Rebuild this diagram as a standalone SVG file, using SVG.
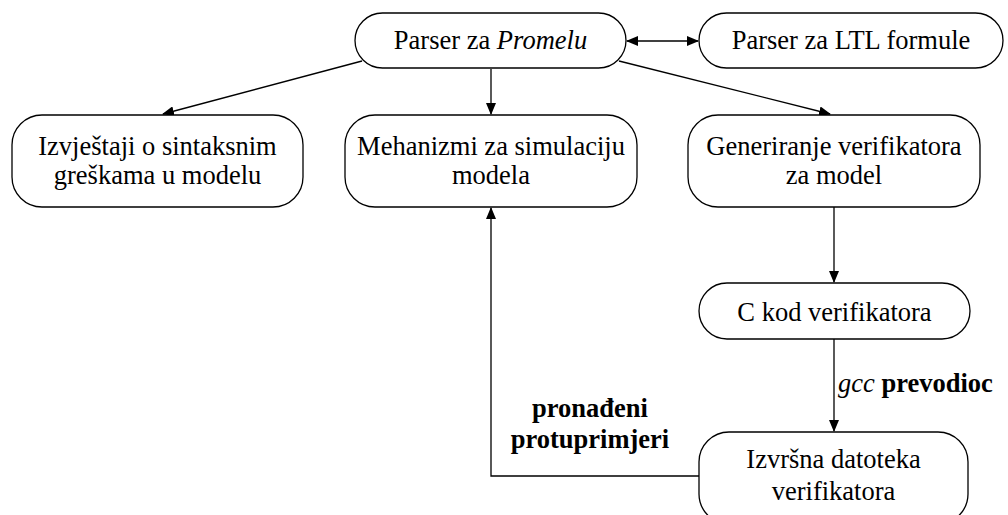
<svg xmlns="http://www.w3.org/2000/svg" width="1008" height="515" viewBox="0 0 1008 515">
<style>
.box{fill:#fff;stroke:#000;stroke-width:1.3}
.t{font-family:'Liberation Serif','Times New Roman',Tinos,'DejaVu Serif',serif;font-size:26.5px;fill:#000;text-anchor:middle}
.b{font-weight:600}
.c{fill:none;stroke:#000;stroke-width:1.3}
</style>
<defs>
<marker id="ah" markerWidth="12" markerHeight="10" refX="11" refY="5" orient="auto" markerUnits="userSpaceOnUse">
<path d="M0,0 L12,5 L0,10 Z" fill="#000"/>
</marker>
<marker id="as" markerWidth="12" markerHeight="10" refX="1" refY="5" orient="auto" markerUnits="userSpaceOnUse">
<path d="M12,0 L0,5 L12,10 Z" fill="#000"/>
</marker>
</defs>
<g id="connectors">
<line class="c" x1="627" y1="41" x2="698" y2="41" marker-start="url(#as)" marker-end="url(#ah)"/>
<line class="c" x1="362" y1="61" x2="163" y2="114" marker-end="url(#ah)"/>
<line class="c" x1="491" y1="69" x2="491" y2="114" marker-end="url(#ah)"/>
<line class="c" x1="619" y1="61" x2="830" y2="114" marker-end="url(#ah)"/>
<line class="c" x1="834" y1="207" x2="834" y2="282" marker-end="url(#ah)"/>
<line class="c" x1="834" y1="339" x2="834" y2="431" marker-end="url(#ah)"/>
<polyline class="c" points="699,476 491,476 491,208" marker-end="url(#ah)"/>
<text class="t" font-family="Liberation Serif, serif" x="838" y="392" style="text-anchor:start"><tspan font-style="italic">gcc</tspan><tspan class="b"> prevodioc</tspan></text>
<text class="t b" x="590" y="417">pronađeni</text>
<text class="t b" x="590" y="448">protuprimjeri</text>
</g>
<g id="parser-promela">
<rect class="box" x="355" y="13" width="271" height="55" rx="27.5"/>
<text class="t" x="490.5" y="49">Parser za <tspan font-style="italic">Promelu</tspan></text>
</g>
<g id="parser-ltl">
<rect class="box" x="699" y="13" width="304" height="55" rx="27.5"/>
<text class="t" x="851" y="49">Parser za LTL formule</text>
</g>
<g id="izvjestaji">
<rect class="box" x="12" y="115" width="291" height="92" rx="30"/>
<text class="t" x="157.5" y="155">Izvještaji o sintaksnim</text>
<text class="t" x="157.5" y="184">greškama u modelu</text>
</g>
<g id="mehanizmi">
<rect class="box" x="345" y="115" width="292" height="92" rx="30"/>
<text class="t" x="491" y="155">Mehanizmi za simulaciju</text>
<text class="t" x="491" y="184">modela</text>
</g>
<g id="generiranje">
<rect class="box" x="688" y="115" width="292" height="92" rx="30"/>
<text class="t" x="834" y="155">Generiranje verifikatora</text>
<text class="t" x="834" y="184">za model</text>
</g>
<g id="c-kod">
<rect class="box" x="699" y="283" width="271" height="56" rx="28"/>
<text class="t" x="834.5" y="321">C kod verifikatora</text>
</g>
<g id="izvrsna">
<rect class="box" x="699" y="432" width="269" height="92" rx="30"/>
<text class="t" x="833.5" y="468">Izvršna datoteka</text>
<text class="t" x="833.5" y="500">verifikatora</text>
</g>
</svg>
